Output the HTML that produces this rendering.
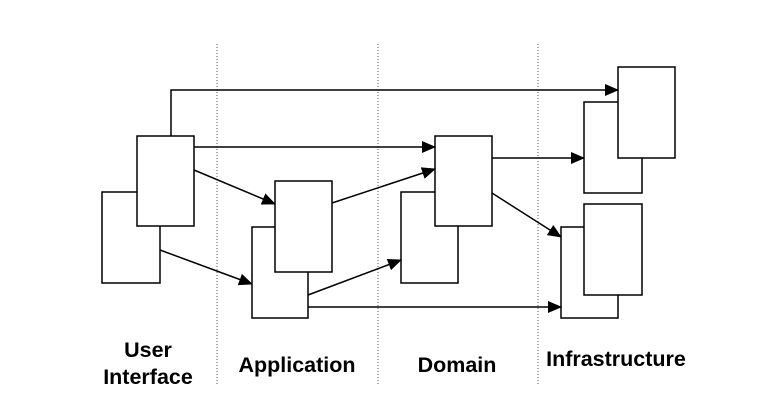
<!DOCTYPE html>
<html><head><meta charset="utf-8"><style>
html,body{margin:0;padding:0;background:#fff;}
svg{display:block;}
text{font-family:"Liberation Sans",Arial,sans-serif;font-weight:bold;font-size:21.5px;fill:#000;}
</style></head><body>
<svg width="784" height="416" viewBox="0 0 784 416" xmlns="http://www.w3.org/2000/svg">
<defs>
<marker id="a" markerWidth="14" markerHeight="12" refX="13" refY="6" orient="auto" markerUnits="userSpaceOnUse">
<path d="M0,0 L14,6 L0,12 Z" fill="#000"/>
</marker>
</defs>
<g stroke="#555" stroke-width="1" stroke-dasharray="1,2">
<line x1="217" y1="44" x2="217" y2="386"/>
<line x1="378" y1="44" x2="378" y2="386"/>
<line x1="538" y1="44" x2="538" y2="386"/>
</g>
<g fill="#fff" stroke="#000" stroke-width="1.5">
<rect x="102" y="192" width="58" height="91"/>
<rect x="137" y="136" width="57" height="90"/>
<rect x="252" y="227" width="56" height="91"/>
<rect x="275" y="181" width="57" height="91"/>
<rect x="401" y="192" width="57" height="91"/>
<rect x="435" y="136" width="57" height="90"/>
<rect x="584" y="102" width="58" height="91"/>
<rect x="618" y="67" width="57" height="91"/>
<rect x="561" y="227" width="57" height="91"/>
<rect x="584" y="204" width="58" height="91"/>
</g>
<g stroke="#000" stroke-width="1.5" fill="none" marker-end="url(#a)">
<polyline points="171,136 171,90 618,90"/>
<line x1="194" y1="147" x2="435" y2="147"/>
<line x1="194" y1="170" x2="275" y2="204"/>
<line x1="160" y1="250" x2="252" y2="284"/>
<line x1="332" y1="203" x2="435" y2="169"/>
<line x1="308" y1="295" x2="401" y2="260"/>
<line x1="308" y1="307" x2="561" y2="307"/>
<line x1="492" y1="158" x2="584" y2="158"/>
<line x1="492" y1="193" x2="561" y2="237"/>
</g>
<text x="148" y="357" text-anchor="middle">User</text>
<text x="148" y="384" text-anchor="middle">Interface</text>
<text x="297" y="372" text-anchor="middle">Application</text>
<text x="457" y="372" text-anchor="middle">Domain</text>
<text x="616" y="366" text-anchor="middle">Infrastructure</text>
</svg>
</body></html>
